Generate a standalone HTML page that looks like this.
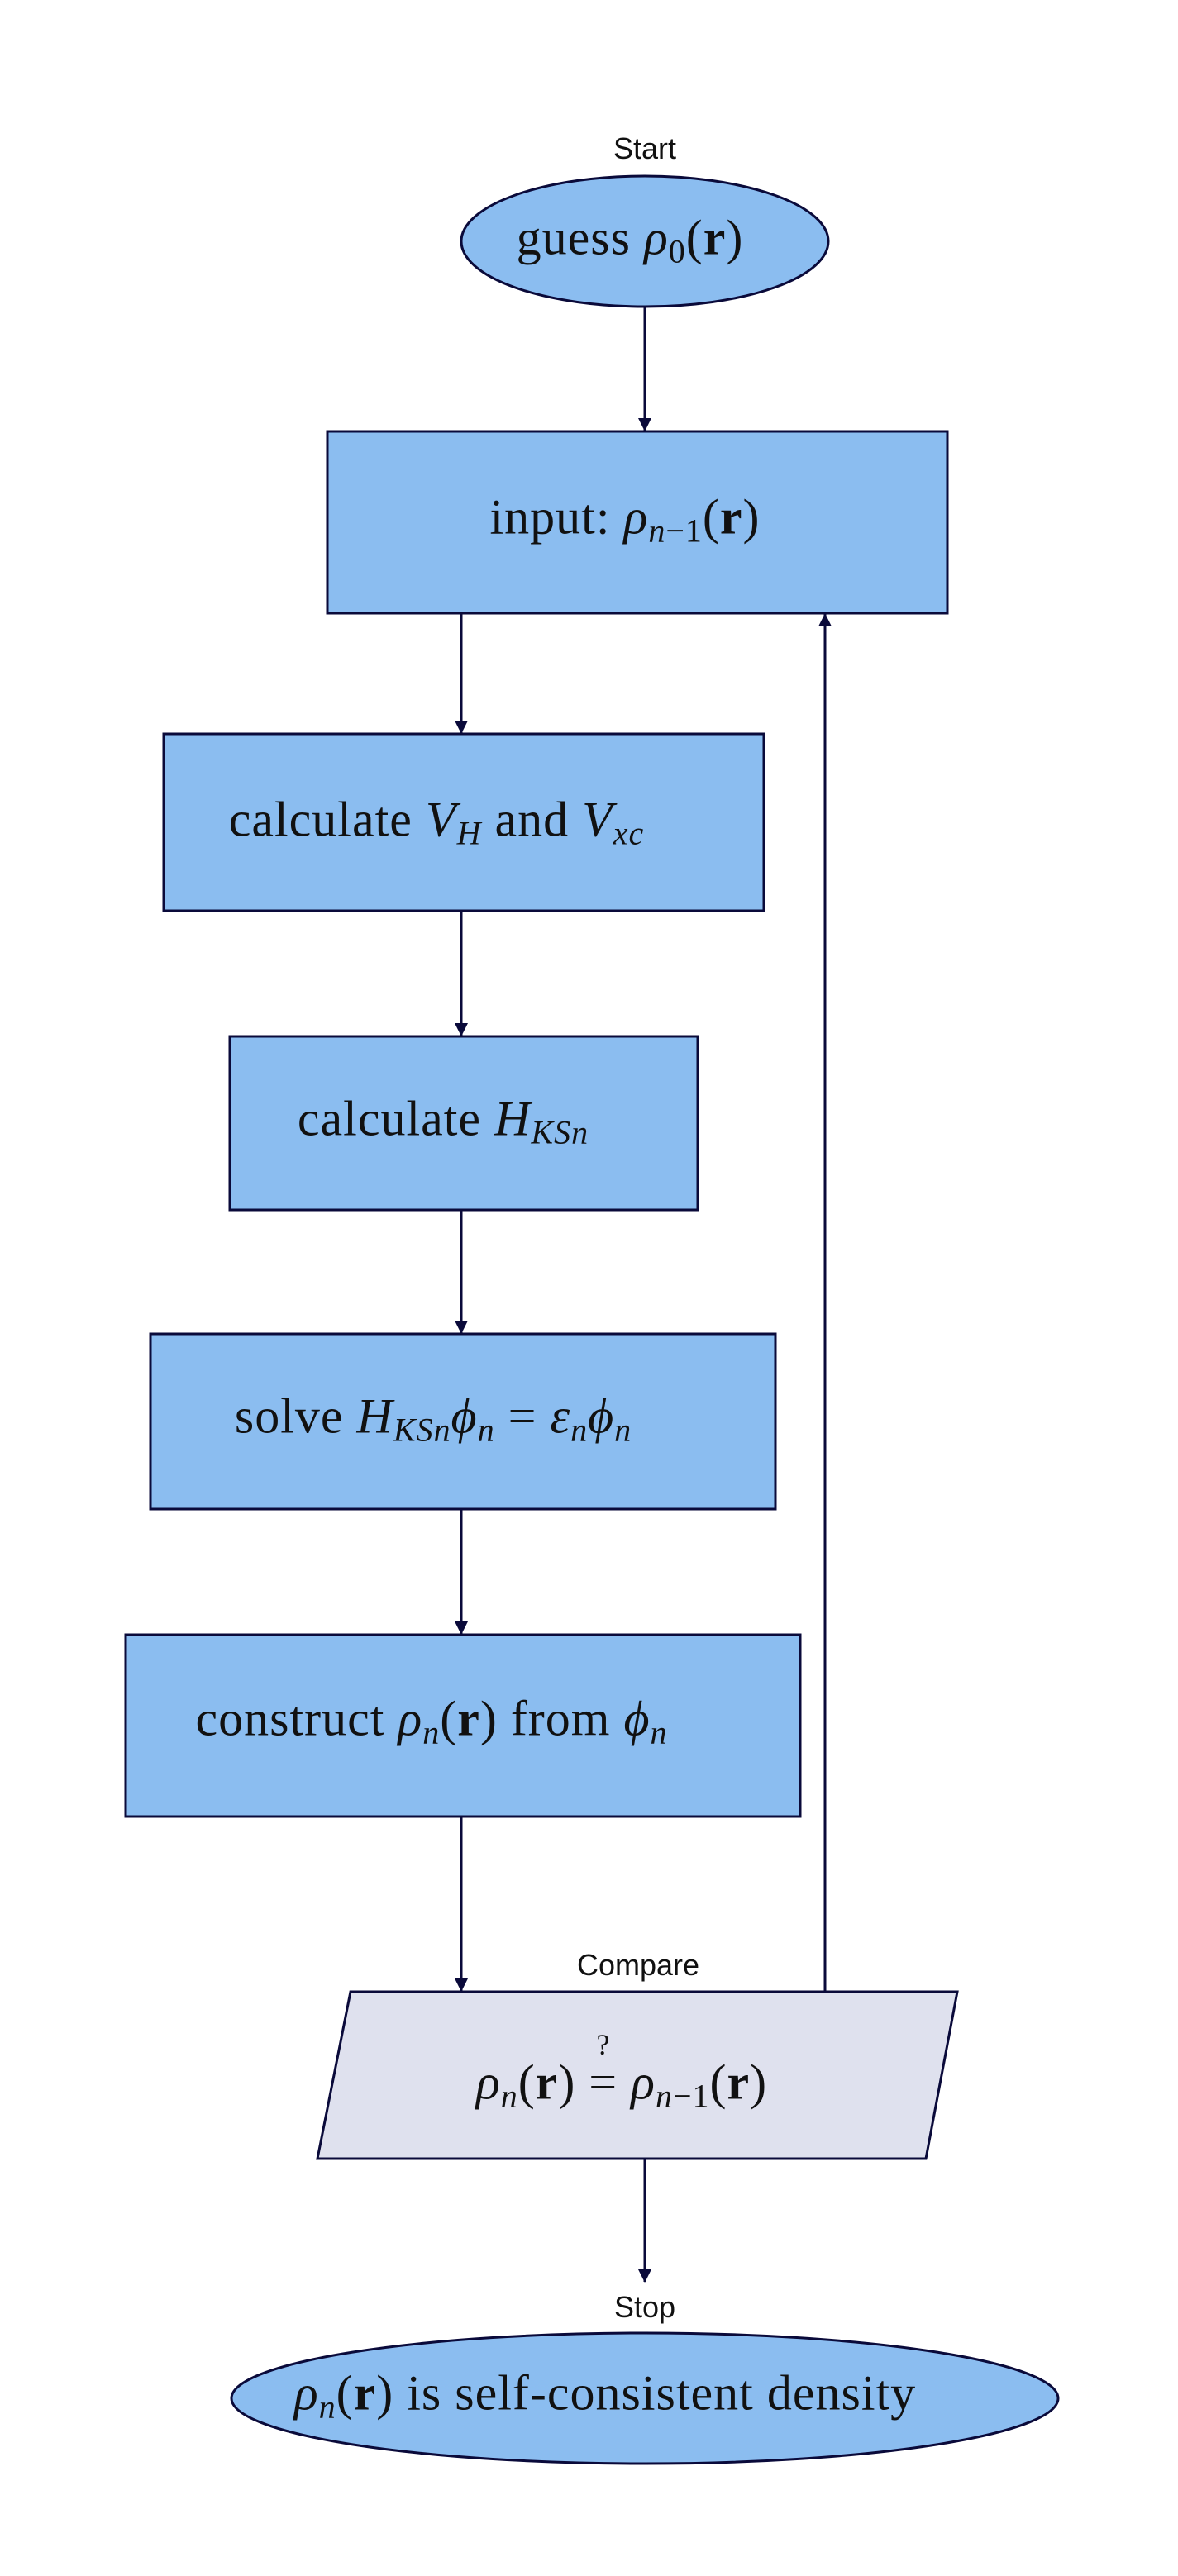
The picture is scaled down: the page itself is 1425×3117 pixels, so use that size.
<!DOCTYPE html>
<html><head><meta charset="utf-8">
<style>
body{margin:0;background:#fff;}
#wrap{position:relative;width:1425px;height:3117px;overflow:hidden;}
svg{position:absolute;left:0;top:0;}
.t{position:absolute;font-family:"Liberation Serif",serif;font-size:60px;letter-spacing:1px;color:#111;white-space:nowrap;transform:translate(-50%,-50%);}
.t i{font-style:italic;}
.t b{font-weight:bold;}
.t sub{font-size:40px;vertical-align:-10px;line-height:0;}
.lbl{position:absolute;font-family:"Liberation Sans",sans-serif;font-size:36px;color:#111;transform:translate(-50%,-50%);white-space:nowrap;}
</style></head><body>
<div id="wrap">
<svg width="1425" height="3117">
<defs><marker id="ah" markerWidth="16" markerHeight="16" refX="15" refY="8" orient="auto" markerUnits="userSpaceOnUse"><path d="M0,0 L16,8 L0,16 z" fill="#0a0a3a"/></marker></defs>
<g stroke="#0a0a3a" stroke-width="3" fill="#8bbdf0">
<ellipse cx="780" cy="292" rx="222" ry="79"/>
<rect x="396" y="522" width="750" height="220"/>
<rect x="198" y="888" width="726" height="214"/>
<rect x="278" y="1254" width="566" height="210"/>
<rect x="182" y="1614" width="756" height="212"/>
<rect x="152" y="1978" width="816" height="220"/>
<polygon points="424,2410 1158,2410 1120,2612 384,2612" fill="#dfe1ee"/>
<ellipse cx="780" cy="2902" rx="500" ry="79"/>
</g>
<g stroke="#0a0a3a" stroke-width="3" fill="none" marker-end="url(#ah)">
<line x1="780" y1="371" x2="780" y2="521"/>
<line x1="558" y1="742" x2="558" y2="887"/>
<line x1="558" y1="1102" x2="558" y2="1253"/>
<line x1="558" y1="1464" x2="558" y2="1613"/>
<line x1="558" y1="1826" x2="558" y2="1977"/>
<line x1="558" y1="2198" x2="558" y2="2409"/>
<line x1="998" y1="2410" x2="998" y2="743"/>
<line x1="780" y1="2612" x2="780" y2="2761"/>
</g>
</svg>
<div class="lbl" style="left:780px;top:180px">Start</div>
<div class="t" style="left:762px;top:288px">guess <i>ρ</i><sub>0</sub>(<b>r</b>)</div>
<div class="t" style="left:756px;top:626px">input: <i>ρ</i><sub><i>n</i>−1</sub>(<b>r</b>)</div>
<div class="t" style="left:528px;top:992px">calculate <i>V</i><sub><i>H</i></sub> and <i>V</i><sub><i>xc</i></sub></div>
<div class="t" style="left:536px;top:1354px">calculate <i>H</i><sub><i>KSn</i></sub></div>
<div class="t" style="left:524px;top:1714px">solve <i>H</i><sub><i>KSn</i></sub><i>ϕ</i><sub><i>n</i></sub> = <i>ε</i><sub><i>n</i></sub><i>ϕ</i><sub><i>n</i></sub></div>
<div class="t" style="left:522px;top:2080px">construct <i>ρ</i><sub><i>n</i></sub>(<b>r</b>) from <i>ϕ</i><sub><i>n</i></sub></div>
<div class="lbl" style="left:772px;top:2378px">Compare</div>
<div class="t" style="left:730px;top:2474px;font-size:36px">?</div>
<div class="t" style="left:752px;top:2520px"><i>ρ</i><sub><i>n</i></sub>(<b>r</b>) = <i>ρ</i><sub><i>n</i>−1</sub>(<b>r</b>)</div>
<div class="lbl" style="left:780px;top:2792px">Stop</div>
<div class="t" style="left:732px;top:2896px"><i>ρ</i><sub><i>n</i></sub>(<b>r</b>) is self-consistent density</div>
</div>
</body></html>
